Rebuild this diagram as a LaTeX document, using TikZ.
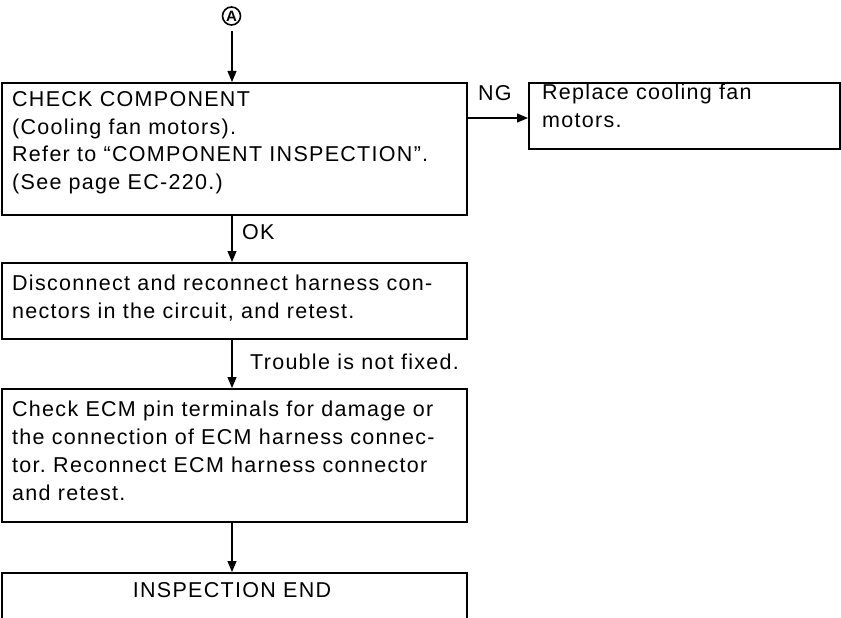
\documentclass[tikz,border=0pt]{standalone}
\usepackage{fontspec}
\setmainfont{Liberation Sans}[LetterSpace=6]
\usetikzlibrary{arrows.meta}
\frenchspacing
\begin{document}
\begin{tikzpicture}[x=1pt,y=-1pt,
  box/.style={draw,line width=1.6pt,anchor=north west,inner sep=0pt},
  txt/.style={anchor=north west,inner sep=0pt,align=left,
    font=\fontsize{21.5}{27.8}\selectfont},
  lbl/.style={inner sep=0pt,font=\fontsize{21.5}{24}\selectfont},
  arr/.style={line width=1.2pt,-{Triangle[length=11pt,width=9pt]}}]
\useasboundingbox (0,0) rectangle (841,618);
% circled A
\node[draw,circle,line width=1.6pt,inner sep=0pt,minimum size=18pt,
  font=\fontsize{15}{15}\selectfont\bfseries\addfontfeatures{LetterSpace=0}] (A) at (231.5,16) {A};
% boxes
\node[box,minimum width=465pt,minimum height=132pt] (b1) at (1,82) {};
\node[txt] (t1) at (12,91) {CHECK COMPONENT\\(Cooling fan motors).\\Refer to ``COMPONENT INSPECTION''.\\(See page EC-220.)};
\node[box,minimum width=311pt,minimum height=66pt] (ng) at (528,82) {};
\node[txt] (tng) at (542,84) {Replace cooling fan\\motors.};
\node[box,minimum width=465pt,minimum height=76pt] (b2) at (1,262) {};
\node[txt] (t2) at (12,275) {Disconnect and reconnect harness con-\\nectors in the circuit, and retest.};
\node[box,minimum width=465pt,minimum height=133pt] (b3) at (1,388) {};
\node[txt] (t3) at (12,401) {Check ECM pin terminals for damage or\\the connection of ECM harness connec-\\tor. Reconnect ECM harness connector\\and retest.};
\node[box,minimum width=465pt,minimum height=46pt] (b4) at (1,572) {};
\node[lbl] (t4) at (232,590) {INSPECTION END};
% connectors
\coordinate (a0) at (232,31);
\draw[arr] (a0) -- (b1.north -| a0);
\coordinate (ngs) at (b1.east |- 0,118);
\draw[arr] (ngs) -- (ng.west |- ngs);
\node[lbl,anchor=south west] (ngl) at (478,101) {NG};
\coordinate (c1) at (232,214);
\draw[arr] (c1) -- (b2.north -| c1);
\node[lbl,anchor=west] (okl) at (242,232) {OK};
\coordinate (c2) at (232,338);
\draw[arr] (c2) -- (b3.north -| c2);
\node[lbl,anchor=west] (trl) at (250,362) {Trouble is not fixed.};
\coordinate (c3) at (232,521);
\draw[arr] (c3) -- (b4.north -| c3);
\end{tikzpicture}
\end{document}
